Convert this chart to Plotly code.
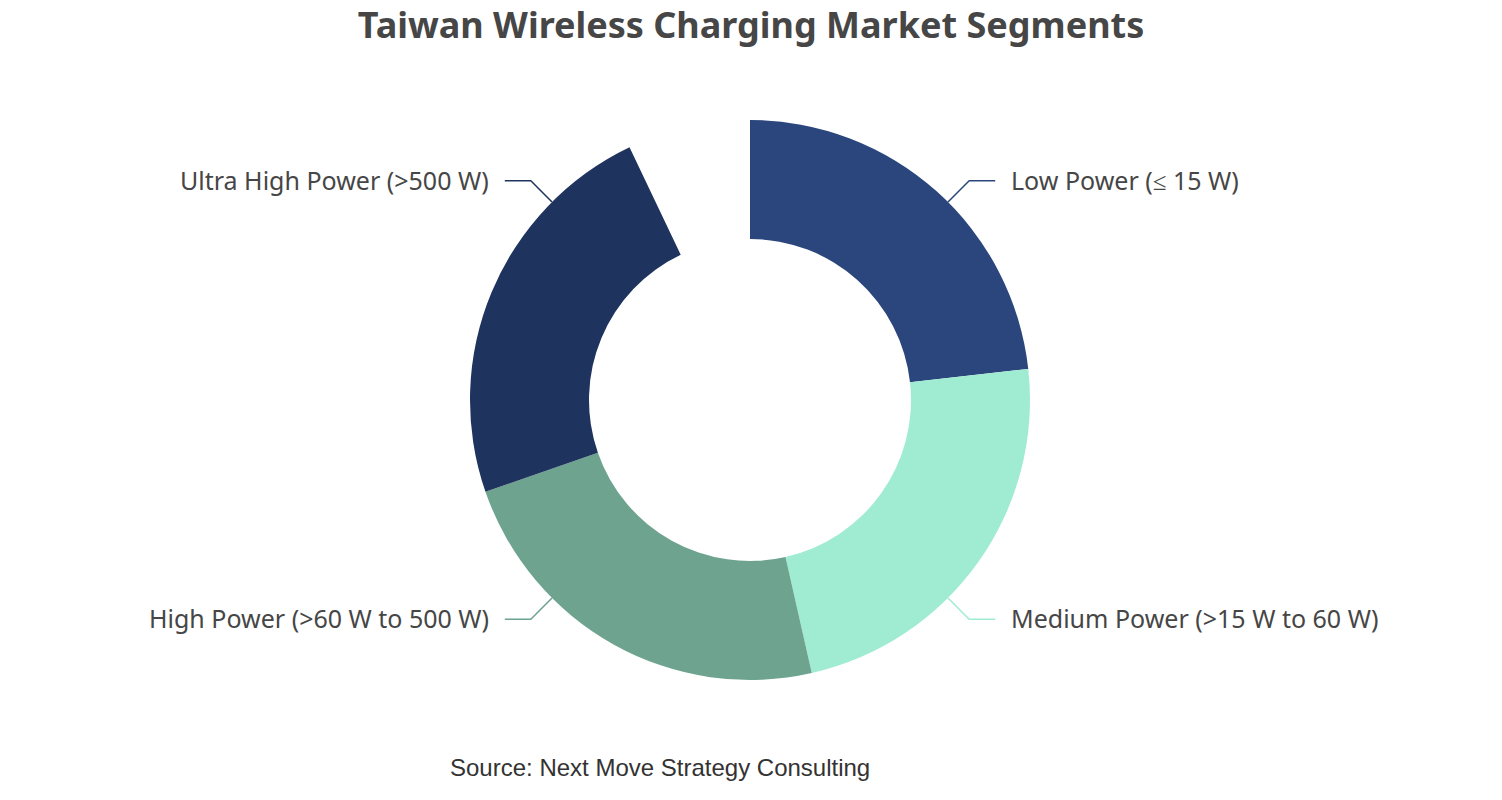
import math
import plotly.graph_objects as go

# ---- data ----
categories = ["Low Power (≤ 15 W)", "Medium Power (>15 W to 60 W)",
              "High Power (>60 W to 500 W)", "Ultra High Power (>500 W)"]
shares = [25, 25, 25, 25]
unfilled = 7.62  # portion of the ring left empty in the reference
colors = ["#2b467c", "#a0ecd2", "#6da38f", "#1e335e"]

title = "Taiwan Wireless Charging Market Segments"
source = "Source: Next Move Strategy Consulting"

W, H = 1502, 800
cx, cy, R = 750, 400, 280
hole = 0.575

fig = go.Figure(go.Pie(
    labels=categories + [""],
    values=shares + [unfilled],
    marker=dict(colors=colors + ["rgba(0,0,0,0)"], line=dict(width=0)),
    sort=False, direction="clockwise", rotation=0, hole=hole,
    textinfo="none", hoverinfo="label+percent", showlegend=False,
    domain=dict(x=[(cx - R) / W, (cx + R) / W], y=[(H - cy - R) / H, (H - cy + R) / H]),
))

shapes, annotations = [], []
total = sum(shares)
cum = 0
for lab, v, c in zip(categories, shares, colors):
    mid = math.radians((cum + v / 2) / total * 360)
    cum += v
    sx, sy = math.sin(mid), math.cos(mid)
    x0, y0 = cx + R * sx, cy - R * sy
    x1, y1 = cx + (R + 30) * sx, cy - (R + 30) * sy
    side = 1 if sx >= 0 else -1
    x2 = x1 + side * 26
    def px(x, y):
        return f"{x / W},{1 - y / H}"
    shapes.append(dict(type="path", xref="paper", yref="paper",
                       path=f"M{px(x0, y0)} L{px(x1, y1)} L{px(x2, y1)}",
                       line=dict(color=c, width=1.5)))
    annotations.append(dict(xref="paper", yref="paper", x=(x2 + side * 14) / W, y=1 - (y1 - 1) / H,
                            text=lab, showarrow=False,
                            xanchor="left" if side > 0 else "right", yanchor="middle",
                            font=dict(family="Noto Sans", size=25, color="#464646")))

annotations.append(dict(xref="paper", yref="paper", x=660 / W, y=1 - 767 / H, text=source,
                        showarrow=False, xanchor="center", yanchor="middle",
                        font=dict(family="Liberation Sans", size=24, color="#333333")))

fig.update_layout(
    width=W, height=H,
    margin=dict(l=0, r=0, t=0, b=0),
    paper_bgcolor="white", plot_bgcolor="white",
    title=dict(text=f"<b>{title}</b>", x=0.5, xanchor="center", y=1 - 25 / H, yanchor="middle",
               font=dict(family="Noto Sans", size=36, color="#464646")),
    shapes=shapes, annotations=annotations,
)

fig.write_html("out.html", config={"displayModeBar": False},
               post_script="document.body.style.margin='0';")
